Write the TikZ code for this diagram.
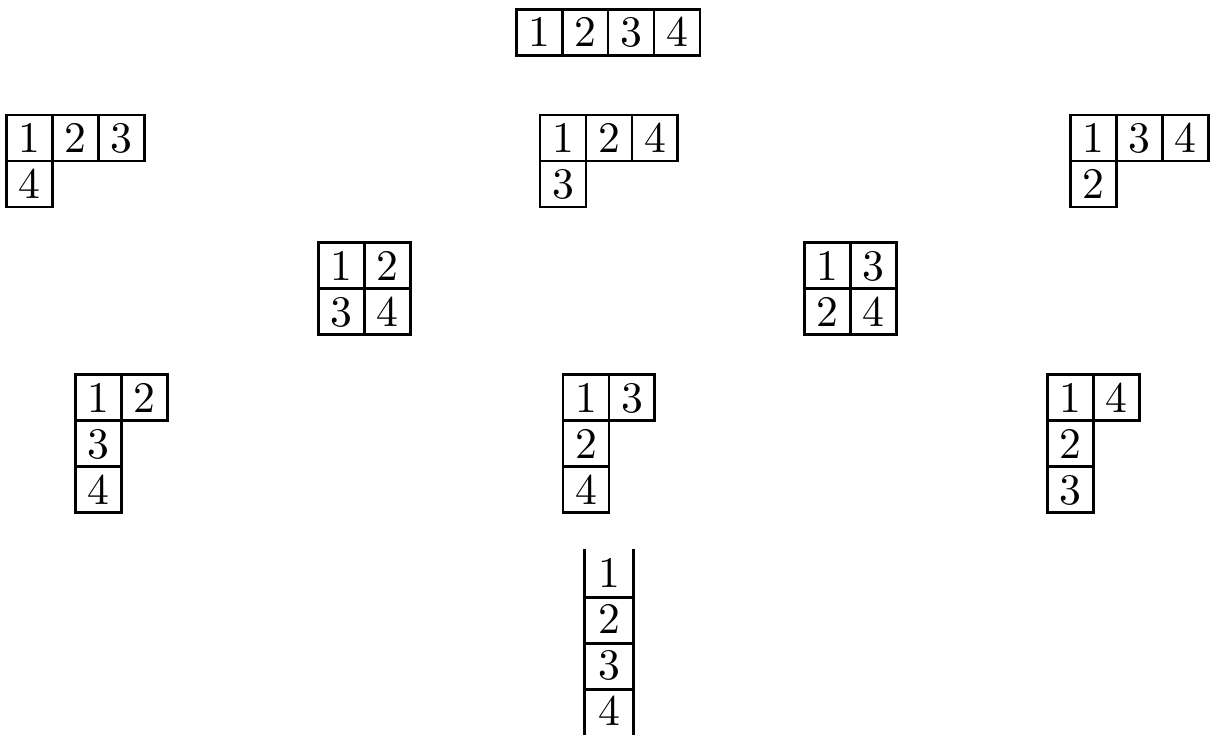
\documentclass[tikz,border=0pt]{standalone}
\usepackage{fontspec}
\newfontfamily\cellfont{lmroman10-regular.otf}
\begin{document}
\begin{tikzpicture}[y=-1cm,
  cell/.style={draw, rectangle, line width=1.8pt, minimum width=1cm, minimum height=1cm, inner sep=0pt, text height=0.64cm, text depth=0pt, font=\cellfont\fontsize{27}{30}\selectfont},
  opencell/.style={cell, draw=none},
  rule/.style={line width=1.8pt}]
\useasboundingbox (0,0) rectangle (26.33,15.96);
\node[cell] (a1) at (11.72,0.7) {1};
\node[cell] (a2) at (12.72,0.7) {2};
\node[cell] (a3) at (13.72,0.7) {3};
\node[cell] (a4) at (14.72,0.7) {4};
\node[cell] (b1) at (0.65,3.0) {1};
\node[cell] (b2) at (1.65,3.0) {2};
\node[cell] (b3) at (2.65,3.0) {3};
\node[cell] (b4) at (0.65,4.0) {4};
\node[cell] (c1) at (12.24,3.0) {1};
\node[cell] (c2) at (13.24,3.0) {2};
\node[cell] (c3) at (14.24,3.0) {4};
\node[cell] (c4) at (12.24,4.0) {3};
\node[cell] (d1) at (23.78,3.0) {1};
\node[cell] (d2) at (24.78,3.0) {3};
\node[cell] (d3) at (25.78,3.0) {4};
\node[cell] (d4) at (23.78,4.0) {2};
\node[cell] (e1) at (7.43,5.78) {1};
\node[cell] (e2) at (8.43,5.78) {2};
\node[cell] (e3) at (7.43,6.78) {3};
\node[cell] (e4) at (8.43,6.78) {4};
\node[cell] (f1) at (18.0,5.78) {1};
\node[cell] (f2) at (19.0,5.78) {3};
\node[cell] (f3) at (18.0,6.78) {2};
\node[cell] (f4) at (19.0,6.78) {4};
\node[cell] (g1) at (2.15,8.65) {1};
\node[cell] (g2) at (3.15,8.65) {2};
\node[cell] (g3) at (2.15,9.65) {3};
\node[cell] (g4) at (2.15,10.65) {4};
\node[cell] (h1) at (12.74,8.65) {1};
\node[cell] (h2) at (13.74,8.65) {3};
\node[cell] (h3) at (12.74,9.65) {2};
\node[cell] (h4) at (12.74,10.65) {4};
\node[cell] (i1) at (23.28,8.65) {1};
\node[cell] (i2) at (24.28,8.65) {4};
\node[cell] (i3) at (23.28,9.65) {2};
\node[cell] (i4) at (23.28,10.65) {3};
\node[opencell] (j1) at (13.24,12.46) {1};
\node[opencell] (j2) at (13.24,13.46) {2};
\node[opencell] (j3) at (13.24,14.46) {3};
\node[opencell] (j4) at (13.24,15.46) {4};
\draw[rule] (j1.north west) -- (j4.south west);
\draw[rule] (j1.north east) -- (j4.south east);
\draw[rule] (j1.south west) -- (j1.south east);
\draw[rule] (j2.south west) -- (j2.south east);
\draw[rule] (j3.south west) -- (j3.south east);
\end{tikzpicture}
\end{document}
